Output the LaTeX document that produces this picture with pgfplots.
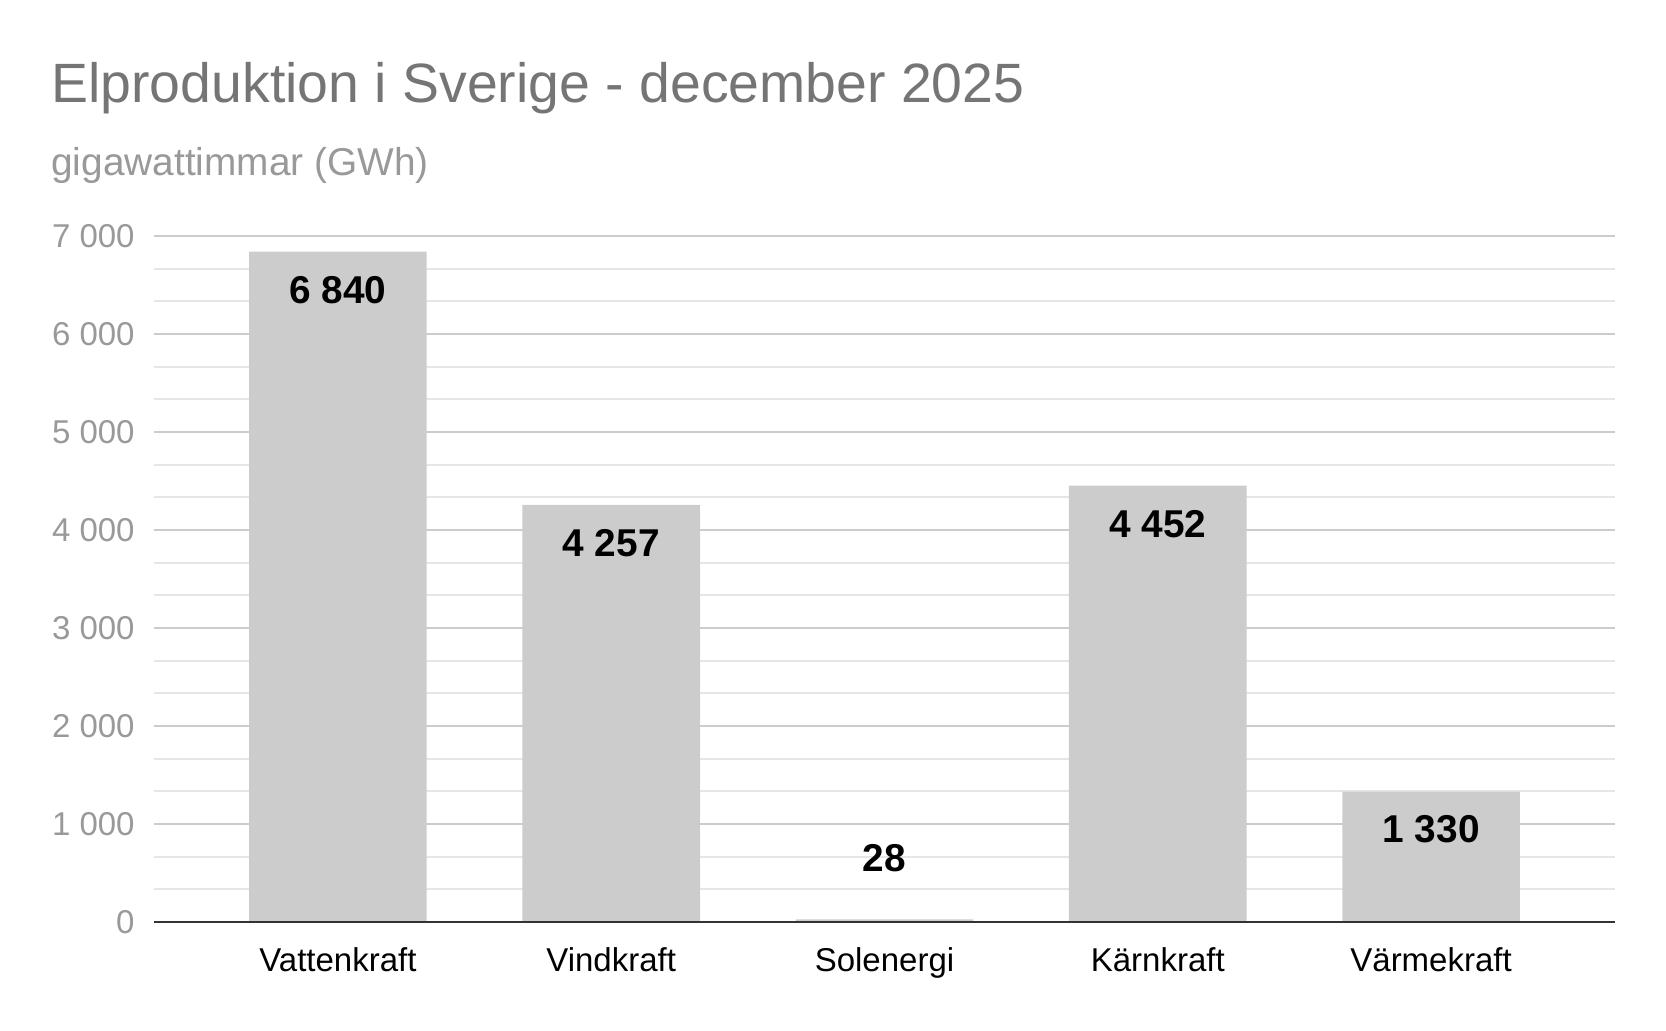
\documentclass[border=0pt]{standalone}
\usepackage{fontspec}
\setmainfont{Liberation Sans}
\usepackage{pgfplots}
\pgfplotsset{compat=1.18}
\definecolor{titlegray}{HTML}{757575}
\definecolor{subgray}{HTML}{999999}
\definecolor{tickgray}{HTML}{999999}
\definecolor{bargray}{HTML}{CCCCCC}
\definecolor{majgrid}{HTML}{CCCCCC}
\definecolor{mingrid}{HTML}{E6E6E6}
\definecolor{axisdark}{HTML}{333333}
\begin{document}
\begin{tikzpicture}
\path (0,0) rectangle (833pt,515pt);
\node[anchor=base west, inner sep=0pt, text=titlegray, font=\fontsize{27.7}{30}\selectfont] at (25.5pt,463.5pt) {Elproduktion i Sverige - december 2025};
\node[anchor=base west, inner sep=0pt, text=subgray, font=\fontsize{19.4}{22}\selectfont] at (25.5pt,427pt) {gigawattimmar (GWh)};
\begin{axis}[
  at={(77pt,54pt)}, anchor=south west, scale only axis,
  width=730.5pt, height=343pt,
  xmin=-0.673, xmax=4.673, ymin=0, ymax=7000,
  xtick={0,1,2,3,4},
  xticklabels={Vattenkraft,Vindkraft,Solenergi,Kärnkraft,Värmekraft},
  ytick distance=1000, minor y tick num=2,
  ymajorgrids, yminorgrids,
  major grid style={majgrid, line width=1pt},
  minor grid style={mingrid, line width=1pt},
  major tick length=0pt, minor tick length=0pt,
  axis line style={draw=none},
  /pgf/number format/assume math mode=true,
  /pgf/number format/1000 sep={\ },
  yticklabel style={text=tickgray, font=\fontsize{16.5}{18}\selectfont, anchor=east, inner sep=0pt, xshift=-9.5pt},
  xticklabel style={text=black, font=\fontsize{16.5}{18}\selectfont, anchor=base, inner sep=0pt, yshift=-24.5pt},
  clip=false,
]
\addplot[ybar, bar width=0.65, fill=bargray, draw=none,
  nodes near coords,
  nodes near coords style={anchor=center, inner sep=0pt, yshift=-19pt, text=black, font=\bfseries\fontsize{19.4}{22}\selectfont},
  coordinate style/.condition={\coordindex==2}{yshift=49.5pt},
] coordinates {(0,6840) (1,4257) (2,28) (3,4452) (4,1330)};
\draw[axisdark, line width=1pt] (rel axis cs:0,0) -- (rel axis cs:1,0);
\end{axis}
\end{tikzpicture}
\end{document}
